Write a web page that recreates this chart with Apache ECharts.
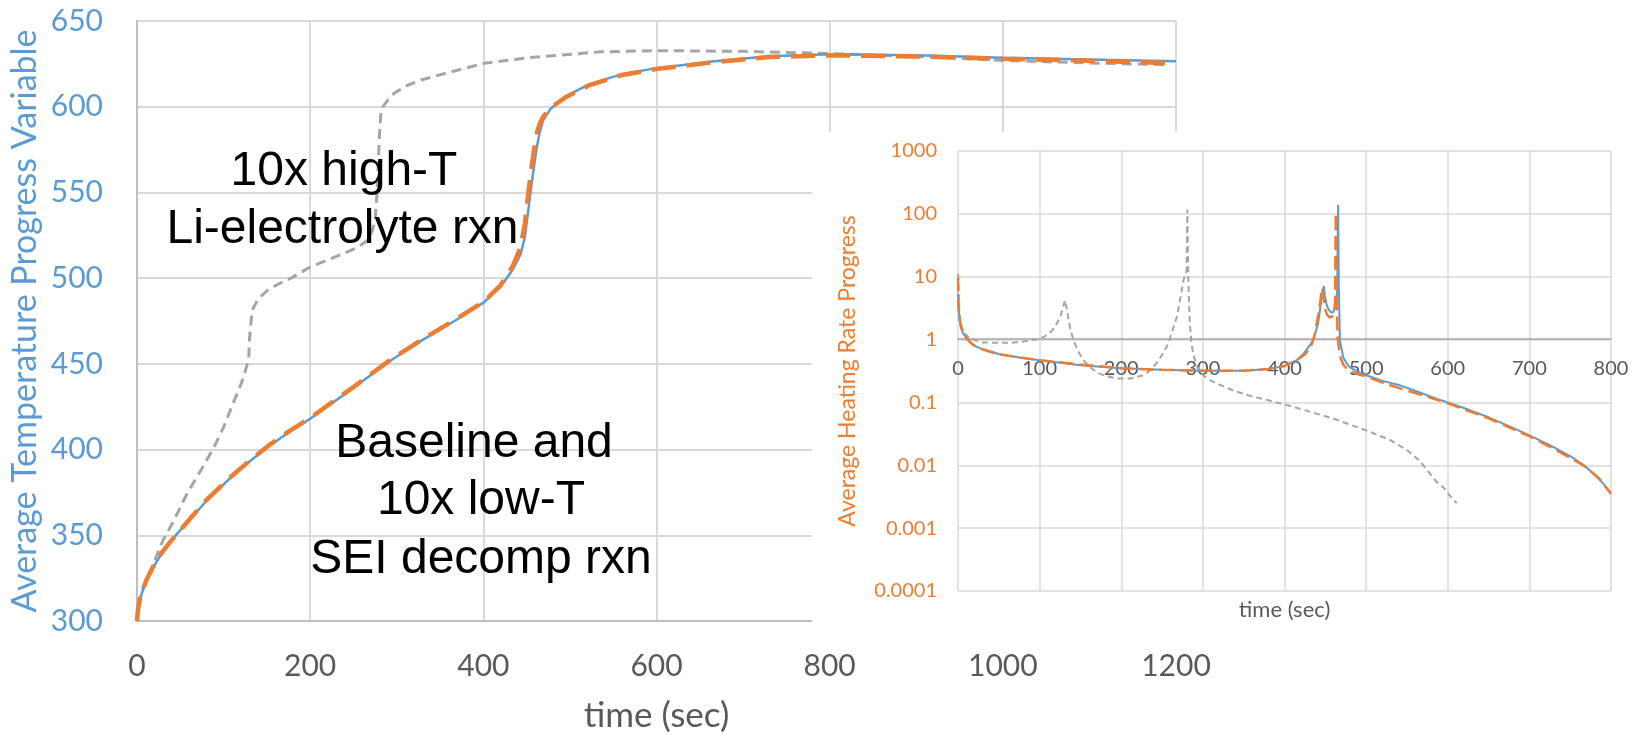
<!DOCTYPE html>
<html><head><meta charset="utf-8">
<script src="https://cdn.jsdelivr.net/npm/echarts@6/dist/echarts.min.js"></script>
<style>html,body{margin:0;padding:0;background:#fff}#c{width:1643px;height:735px}</style>
</head><body><div id="c"></div>
<script>
// ---------- Main chart: Average Temperature Progress Variable ----------
const mainBaselineT = [0,1,3.5,11,19,28,38,50,61,80,107,130,151,175,200,250,293,330,370,401,420,434,443,448,452,456,459,462,465,469,478,495,522,560,600,667,730,800,900,1000,1100,1200];
const mainBaselineV = [300,306,313,324,331.5,339,346,353,359,370,383,393,401.5,410,418,436,452,464,476,486,495,505,514,524,540,556,567,577,585,592,599,606,613,619,622.5,626.5,629.5,630.6,630,628.6,627.5,626.5];

const mainLowT_T = [0,1,3.5,11,19,28,38,50,61,80,107,130,151,175,200,250,293,330,370,401,420,434,443,448,452,456,459,462,465,469,478,495,522,560,600,667,730,800,900,1000,1100,1190];
const mainLowT_V = [300,306,313.5,324,332,339.5,346,353,359.5,370.5,383.5,393.5,402,410.5,418.5,436.5,452.5,464.5,476.5,486.5,496,507,518,532,550,566,576,585,590,594,599.5,605.5,612.5,618.5,622,626,629,630,629.3,628,626.8,625.5];

const mainHighT_T = [0,2,7,19,30,42,58,75,89,100,111,120,124.5,129,130,132,133,140,151,165,178,200.6,220,239.5,255,266,272,275,277,278.5,280,281.6,283.8,290,297,310,328,360,401,450,535,600,700,800,900,1000,1100,1186];
const mainHighT_V = [300,308,320,333.5,347,358,374.5,389,401.5,413,427,438,444.7,453,465,476,481.4,488,493,497,500,506.7,510.5,514.6,518,522,528,534,548,565,583,596,600,604,607.8,612,615.6,620,625.3,628.5,632,632.7,632.3,631,629.3,627,625.5,624.5];

const mainXMin = 0, mainXMax = 1200, mainXStep = 200;
const mainYMin = 300, mainYMax = 650, mainYStep = 50;

// ---------- Inset: Average Heating Rate Progress (log) ----------
const insetBaselineT = [0,0.5,1,2,4,7,10,15,20,30,50,75,100,150,200,250,300,350,380,400,415,423,430,435,441,445,447,448.2,449.5,451.4,454,457.5,460,461.6,463,464.5,465.7,466.5,467.9,470,472,476,480,490,500,520,541.5,565,586,600,625,650,675,700,725,750,767,780,790,800];
const insetBaselineV = [5.4,3.5,2.6,2.0,1.5,1.2,1.1,0.92,0.8,0.7,0.59,0.52,0.47,0.39,0.35,0.33,0.32,0.32,0.34,0.38,0.47,0.59,0.78,0.96,1.77,4.1,6,7.1,5,3.67,3.0,2.7,2.75,2.9,3.5,6,140,8,0.96,0.7,0.52,0.42,0.36,0.31,0.27,0.22,0.187,0.145,0.115,0.1,0.077,0.058,0.042,0.03,0.021,0.014,0.01,0.007,0.0052,0.0036];

const insetLowT_T = [0,0.5,1,2,4,7,10,15,20,30,50,75,100,150,200,250,300,350,380,400,415,425,432,437,441,444,446,448,450,452,455,458,460.5,462,462.8,463.6,465,466.5,469,472,476,482,490,500,525,550,600,650,700,740,767,785,800];
const insetLowT_V = [9.6,4,2.8,2.1,1.55,1.22,1.05,0.9,0.8,0.7,0.58,0.52,0.47,0.4,0.35,0.33,0.32,0.32,0.34,0.38,0.47,0.58,0.75,1.2,2.3,4.2,6.6,4.5,3.0,2.5,2.25,2.3,2.6,4,103,15,1.1,0.75,0.5,0.4,0.35,0.31,0.28,0.26,0.195,0.155,0.097,0.056,0.029,0.0155,0.0098,0.0063,0.0035];

const insetHighT_T = [0,0.4,1,2,4.5,8,14.7,20,31,51.5,65,80,100.5,110,116.8,121,125,128,131,133,135,138,141.5,147,153.5,160,170,182,194.5,211,227,235,245,255.6,262,267.9,271,274,276,278,280,281,282,283,284,286,288,292,296.5,305,317,337,360,380,400,430,460,500,530,550,565,576,586,595,605,611];
const insetHighT_V = [11,10,4,2.5,1.57,1.25,1.06,0.98,0.9,0.886,0.89,0.93,1.02,1.2,1.47,1.8,2.25,3.0,4.25,3.2,2.25,1.4,0.97,0.66,0.47,0.38,0.30,0.26,0.24,0.24,0.27,0.32,0.45,0.76,1.3,2.25,3.6,5.96,8.5,10.3,12.3,117,11,4,1.8,0.9,0.6,0.4,0.30,0.24,0.2,0.155,0.125,0.108,0.093,0.072,0.055,0.036,0.025,0.0175,0.012,0.008,0.0055,0.0044,0.003,0.0025];

const insetXMin = 0, insetXMax = 800, insetXStep = 100;
const insetYTickLabels = ['0.0001','0.001','0.01','0.1','1','10','100','1000'];

const annotationHigh = ['10x high-T', 'Li-electrolyte rxn'];
const annotationLow = ['Baseline and', '10x low-T', 'SEI decomp rxn'];

const zip = (a, b) => a.map((t, i) => [t, b[i]]);

const BLUE = '#5B9BD5', ORANGE = '#ED7D31', GRAY = '#A5A5A5';
const TXT = '#595959', GRID = '#D9D9D9';
const FONT = 'Lato, "Open Sans", sans-serif';

const chart = echarts.init(document.getElementById('c'), null, {renderer: 'canvas'});

const annFont = '48px "Liberation Sans", Arial, sans-serif';
function annText(txt, x, y) {
  return {type: 'text', z: 50, silent: true,
    style: {text: txt, x: x, y: y, font: annFont, fill: '#000',
      align: 'center', verticalAlign: 'middle', textAlign: 'center', textVerticalAlign: 'middle'}};
}
const plain = v => String(v);

const option = {
  animation: false,
  backgroundColor: '#fff',
  grid: [
    {left: 137, top: 21, width: 1039, height: 600, outerBoundsMode: 'none', containLabel: false},
    {left: 958, top: 151, width: 653, height: 440, outerBoundsMode: 'none', containLabel: false}
  ],
  xAxis: [
    {type: 'value', gridIndex: 0, position: 'bottom', min: mainXMin, max: mainXMax, interval: mainXStep, z: 0,
     axisLine: {show: true, lineStyle: {color: '#BFBFBF', width: 2}},
     axisTick: {show: false},
     axisLabel: {color: TXT, fontSize: 30, fontFamily: FONT, margin: 30, formatter: plain},
     splitLine: {show: true, lineStyle: {color: GRID, width: 2}},
     name: 'time (sec)', nameLocation: 'middle', nameGap: 77, nameMoveOverlap: false,
     nameTextStyle: {color: TXT, fontSize: 35, fontFamily: FONT}},
    {type: 'value', gridIndex: 1, position: 'bottom', min: insetXMin, max: insetXMax, interval: insetXStep, z: 6,
     offset: -252,
     axisLine: {show: true, lineStyle: {color: '#A6A6A6', width: 1.5}},
     axisTick: {show: false},
     axisLabel: {color: TXT, fontSize: 20, fontFamily: FONT, margin: 20, formatter: plain},
     splitLine: {show: true, lineStyle: {color: GRID, width: 1.5}}},
    {type: 'value', gridIndex: 1, position: 'bottom', min: insetXMin, max: insetXMax, interval: insetXStep, z: 6,
     axisLine: {show: false}, axisTick: {show: false}, axisLabel: {show: false}, splitLine: {show: false},
     name: 'time (sec)', nameLocation: 'middle', nameGap: 8, nameMoveOverlap: false,
     nameTextStyle: {color: TXT, fontSize: 22, fontFamily: FONT}}
  ],
  yAxis: [
    {type: 'value', gridIndex: 0, position: 'left', min: mainYMin, max: mainYMax, interval: mainYStep, z: 0,
     axisLine: {show: true, lineStyle: {color: '#BFBFBF', width: 2}},
     axisTick: {show: false},
     axisLabel: {color: BLUE, fontSize: 30, fontFamily: FONT, margin: 34},
     splitLine: {show: true, lineStyle: {color: GRID, width: 2}},
     name: 'Average Temperature Progress Variable', nameLocation: 'middle', nameRotate: 90, nameGap: 95,
     nameMoveOverlap: false,
     nameTextStyle: {color: BLUE, fontSize: 34, fontFamily: FONT}},
    {type: 'log', logBase: 10, gridIndex: 1, position: 'left', min: 0.0001, max: 1000, splitNumber: 7, z: 6,
     axisLine: {show: false},
     axisTick: {show: false},
     axisLabel: {color: ORANGE, fontSize: 20, fontFamily: FONT, margin: 21,
       formatter: v => insetYTickLabels[Math.round(Math.log10(v)) + 4]},
     splitLine: {show: true, lineStyle: {color: GRID, width: 1.5}},
     name: 'Average Heating Rate Progress', nameLocation: 'middle', nameRotate: 90, nameGap: 99,
     nameMoveOverlap: false,
     nameTextStyle: {color: ORANGE, fontSize: 23, fontFamily: FONT}}
  ],
  graphic: [
    {type: 'rect', z: 5, silent: true, shape: {x: 812, y: 132, width: 831, height: 508},
     style: {fill: '#fff'}},
    annText(annotationHigh[0], 344, 171.5),
    annText(annotationHigh[1], 342.5, 230),
    annText(annotationLow[0], 474, 443.5),
    annText(annotationLow[1], 481, 501),
    annText(annotationLow[2], 481, 559.5)
  ],
  series: [
    {type: 'line', xAxisIndex: 0, yAxisIndex: 0, z: 2, showSymbol: false, symbol: 'none',
     data: zip(mainHighT_T, mainHighT_V),
     lineStyle: {color: GRAY, width: 3, type: [10, 6]}},
    {type: 'line', xAxisIndex: 0, yAxisIndex: 0, z: 3, showSymbol: false, symbol: 'none',
     data: zip(mainBaselineT, mainBaselineV),
     lineStyle: {color: BLUE, width: 2.5, type: 'solid'}},
    {type: 'line', xAxisIndex: 0, yAxisIndex: 0, z: 4, showSymbol: false, symbol: 'none',
     data: zip(mainLowT_T, mainLowT_V),
     lineStyle: {color: ORANGE, width: 4.5, type: [24, 11]}},

    {type: 'line', xAxisIndex: 1, yAxisIndex: 1, z: 10, showSymbol: false, symbol: 'none',
     data: zip(insetHighT_T, insetHighT_V),
     lineStyle: {color: GRAY, width: 2, type: [6, 4]}},
    {type: 'line', xAxisIndex: 1, yAxisIndex: 1, z: 11, showSymbol: false, symbol: 'none',
     data: zip(insetBaselineT, insetBaselineV),
     lineStyle: {color: BLUE, width: 2, type: 'solid'}},
    {type: 'line', xAxisIndex: 1, yAxisIndex: 1, z: 12, showSymbol: false, symbol: 'none',
     data: zip(insetLowT_T, insetLowT_V),
     lineStyle: {color: ORANGE, width: 2.5, type: [14, 6]}}
  ]
};
chart.setOption(option);
</script>
</body></html>
